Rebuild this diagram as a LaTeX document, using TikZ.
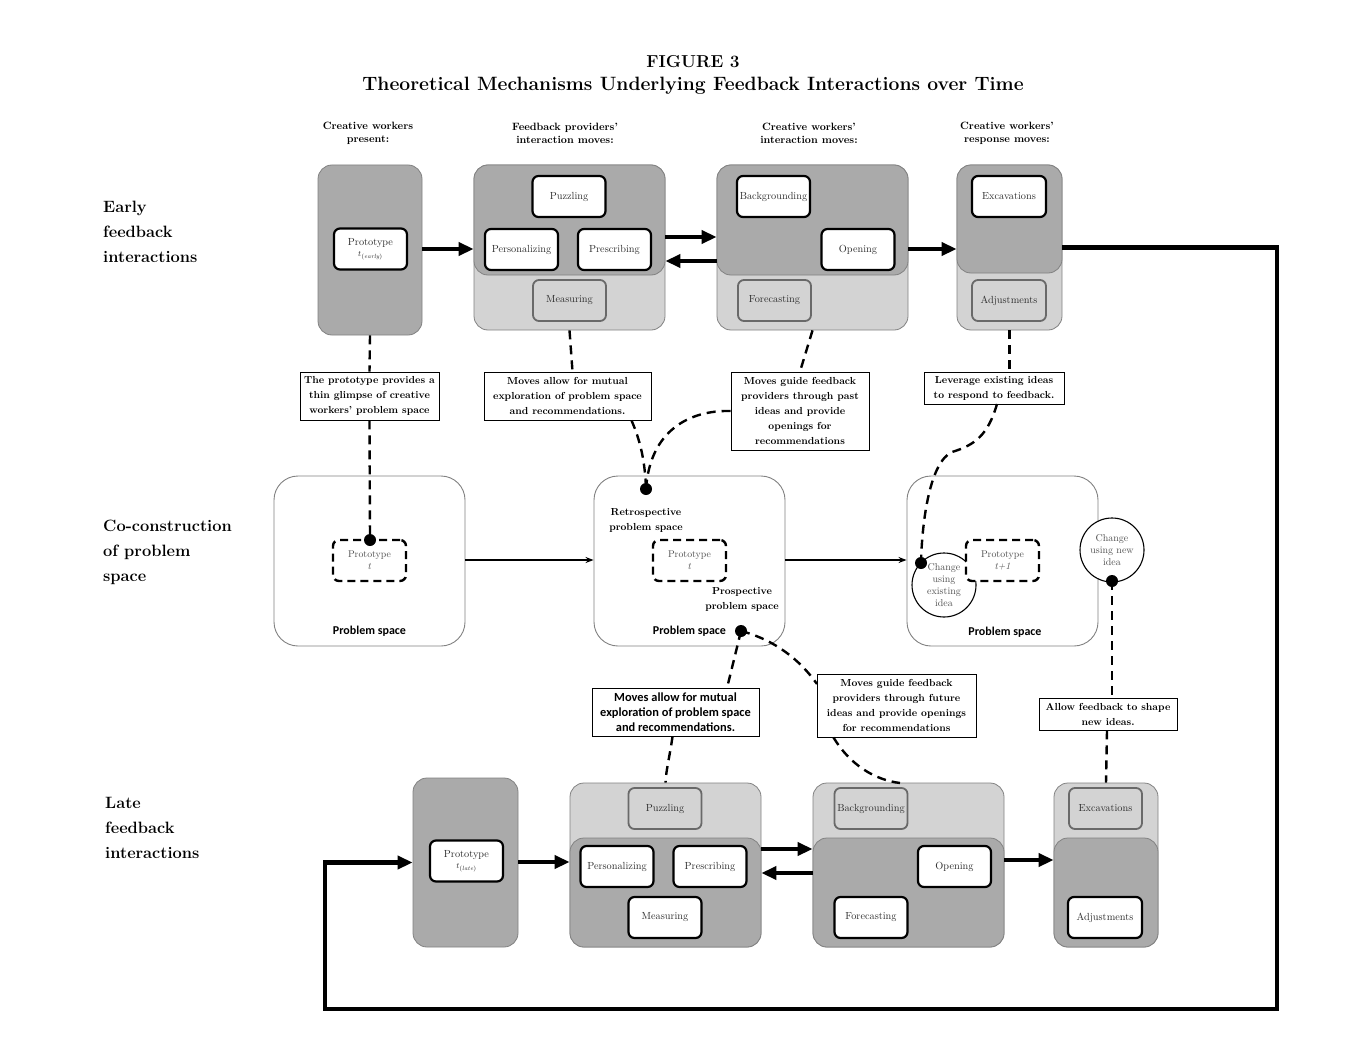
\documentclass[tikz,border=0pt]{standalone}
\usepackage{fontspec}
\newfontfamily\sansb{Carlito}
\usetikzlibrary{arrows.meta}
\definecolor{dkg}{RGB}{170,170,170}
\definecolor{ltg}{RGB}{211,211,211}
\definecolor{bdg}{RGB}{130,130,130}
\definecolor{igb}{RGB}{105,105,105}
\definecolor{txg}{RGB}{45,45,45}
\definecolor{txl}{RGB}{80,80,80}
\begin{document}
\begin{tikzpicture}[x=1pt,y=-1pt,
  every node/.style={inner sep=0pt},
  bigbox/.style={draw=bdg, line width=0.8pt, rounded corners=14pt},
  dark/.style={bigbox, fill=dkg},
  light/.style={bigbox, fill=ltg},
  wbox/.style={draw=black, fill=white, line width=2.2pt, rounded corners=6pt, minimum width=73, minimum height=41, align=center, font=\fontsize{10.3}{12}\selectfont, text=txg},
  gbox/.style={wbox, fill=ltg, draw=igb, line width=1.8pt},
  note/.style={draw=black, fill=white, line width=0.9pt, align=center, font=\bfseries\fontsize{10.2}{15}\selectfont},
  snote/.style={note, font=\sansb\bfseries\fontsize{12.4}{15}\selectfont},
  psbox/.style={draw=bdg, fill=white, line width=0.9pt, rounded corners=24pt, minimum width=191, minimum height=170},
  dproto/.style={draw=black, fill=white, dash pattern=on 8pt off 5pt, line width=2.4pt, rounded corners=6pt, minimum width=73, minimum height=41, align=center, font=\fontsize{9.8}{12}\selectfont, text=txl},
  pslab/.style={font=\sansb\bfseries\fontsize{12}{14}\selectfont},
  dsh/.style={line width=2.4pt, dash pattern=on 9pt off 6pt},
  fat/.style={line width=4.5pt, line join=miter, -{Triangle[length=15pt,width=13pt]}},
  thin/.style={line width=1.6pt, -{Stealth[length=8pt,width=6pt]}},
  dotn/.style={circle, fill=black, minimum size=12pt},
  hdr/.style={align=center, font=\bfseries\fontsize{10.6}{13}\selectfont},
  rowl/.style={align=left, anchor=north west, font=\bfseries\fontsize{16.4}{25}\selectfont},
  circ/.style={circle, draw=black, fill=white, line width=1.1pt, minimum size=64, align=center, font=\fontsize{10}{12}\selectfont, text=txl}
]
\useasboundingbox (0,0) rectangle (1364,1051);
\fill[white] (0,0) rectangle (1364,1051);

% titles
\node[font=\bfseries\fontsize{17.3}{19}\selectfont] (fig) at (693,62) {FIGURE 3};
\node[font=\bfseries\fontsize{19.3}{21}\selectfont] (ttl) at (693,86) {Theoretical Mechanisms Underlying Feedback Interactions over Time};

\node[hdr] (h1) at (368,133) {Creative workers\\present:};
\node[hdr] (h2) at (565,133) {Feedback providers'\\interaction moves:};
\node[hdr] (h3) at (809,133) {Creative workers'\\interaction moves:};
\node[hdr] (h4) at (1007,133) {Creative workers'\\response moves:};

\node[rowl] (r1) at (103,201) {Early\\feedback\\interactions};
\node[rowl] (r2) at (103,520) {Co-construction\\of problem\\space};
\node[rowl] (r3) at (105,797) {Late\\feedback\\interactions};

% ---------- early row ----------
\node[dark, minimum width=104, minimum height=170] (p1box) at (370,250) {};
\node[wbox] (p1) at (370.5,249) {Prototype\\[-1pt]{\footnotesize$t_{(\mathit{early})}$}};

\node[light, minimum width=191, minimum height=165] (fp1light) at (569.5,247.5) {};
\node[dark, minimum width=191, minimum height=110] (fp1dark) at (569.5,220) {};
\node[wbox] (puz1) at (569,196.5) {Puzzling};
\node[wbox] (per1) at (521.5,249.5) {Personalizing};
\node[wbox] (pre1) at (614.5,249.5) {Prescribing};
\node[gbox] (mea1) at (569.5,300.5) {Measuring};

\node[light, minimum width=191, minimum height=165] (cw1light) at (812.5,247.5) {};
\node[dark, minimum width=191, minimum height=110] (cw1dark) at (812.5,220) {};
\node[wbox] (bac1) at (773.5,196.5) {Backgrounding};
\node[wbox] (ope1) at (858,249.5) {Opening};
\node[gbox] (for1) at (774.5,300.5) {Forecasting};

\node[light, minimum width=105, minimum height=165] (rs1light) at (1009.5,247.5) {};
\node[dark, minimum width=105, minimum height=108] (rs1dark) at (1009.5,219) {};
\node[wbox, minimum width=74] (exc1) at (1009,196.5) {Excavations};
\node[gbox, minimum width=74] (adj1) at (1009,300.5) {Adjustments};

\draw[fat] (p1box.east |- 0,249) -- (fp1light.west |- 0,249);
\draw[fat] (fp1light.east |- 0,237) -- (cw1light.west |- 0,237);
\draw[fat] (cw1light.west |- 0,261) -- (fp1light.east |- 0,261);
\draw[fat] (cw1light.east |- 0,249) -- (rs1light.west |- 0,249);

% ---------- notes ----------
\node[note, minimum width=139, minimum height=48] (n1) at (369.5,396) {The prototype provides a\\thin glimpse of creative\\workers' problem space};
\node[note, minimum width=167, minimum height=48] (n2) at (567.5,396) {Moves allow for mutual\\exploration of problem space\\and recommendations.};
\node[note, minimum width=138, minimum height=78] (n3) at (800,411) {Moves guide feedback\\providers through past\\ideas and provide\\openings for\\recommendations};
\node[note, minimum width=140, minimum height=32] (n4) at (994,388) {Leverage existing ideas\\to respond to feedback.};
\node[snote, minimum width=167, minimum height=48] (n5) at (675.5,712) {Moves allow for mutual\\exploration of problem space\\and recommendations.};
\node[note, minimum width=159, minimum height=63] (n6) at (896.5,705.5) {Moves guide feedback\\providers through future\\ideas and provide openings\\for recommendations};
\node[note, minimum width=138, minimum height=32] (n7) at (1108,714) {Allow feedback to shape\\new ideas.};

% ---------- middle row ----------
\node[psbox] (ps1) at (369.5,561) {};
\node[dproto] (pt1) at (369.5,560.5) {Prototype\\\textit{t}};
\node[pslab] (psl1) at (369.5,631) {Problem space};

\node[psbox] (ps2) at (689.5,561) {};
\node[dproto] (pt2) at (689.5,560.5) {Prototype\\\textit{t}};
\node[align=center, font=\bfseries\fontsize{10.2}{15}\selectfont] (retro) at (646,520.5) {Retrospective\\problem space};
\node[align=center, font=\bfseries\fontsize{10.2}{15}\selectfont] (prosp) at (742,599.5) {Prospective\\problem space};
\node[pslab] (psl2) at (689.5,631) {Problem space};

\node[psbox] (ps3) at (1002.5,561) {};
\node[circ] (ce) at (944,585) {Change\\using\\existing\\idea};
\node[dproto] (pt3) at (1002.5,560.5) {Prototype\\\textit{t+1}};
\node[pslab] (psl3) at (1005,632) {Problem space};
\node[circ] (cn) at (1112,550) {Change\\using new\\idea};

\draw[thin] (ps1.east |- 0,560) -- (ps2.west |- 0,560);
\draw[thin] (ps2.east |- 0,560) -- (ps3.west |- 0,560);

% ---------- late row ----------
\node[dark, minimum width=105, minimum height=169] (p3box) at (465.5,862.5) {};
\node[wbox] (p3) at (466.5,861) {Prototype\\[-1pt]{\footnotesize$t_{(\mathit{late})}$}};

\node[light, minimum width=191, minimum height=164] (fp3light) at (665.5,865) {};
\node[dark, minimum width=191, minimum height=109] (fp3dark) at (665.5,892.5) {};
\node[gbox] (puz3) at (665,808.5) {Puzzling};
\node[wbox] (per3) at (617,866.5) {Personalizing};
\node[wbox] (pre3) at (710,866.5) {Prescribing};
\node[wbox] (mea3) at (665,917.5) {Measuring};

\node[light, minimum width=191, minimum height=164] (cw3light) at (908.5,865) {};
\node[dark, minimum width=191, minimum height=109] (cw3dark) at (908.5,892.5) {};
\node[gbox] (bac3) at (871,808.5) {Backgrounding};
\node[wbox] (ope3) at (954.5,866.5) {Opening};
\node[wbox] (for3) at (871,917.5) {Forecasting};

\node[light, minimum width=104, minimum height=164] (rs3light) at (1106,865) {};
\node[dark, minimum width=104, minimum height=109] (rs3dark) at (1106,892.5) {};
\node[gbox, minimum width=73] (exc3) at (1105.5,808.5) {Excavations};
\node[wbox, minimum width=74] (adj3) at (1105,917.5) {Adjustments};

\draw[fat] (p3box.east |- 0,862) -- (fp3light.west |- 0,862);
\draw[fat] (fp3light.east |- 0,849) -- (cw3light.west |- 0,849);
\draw[fat] (cw3light.west |- 0,873) -- (fp3light.east |- 0,873);
\draw[fat] (cw3light.east |- 0,860) -- (rs3light.west |- 0,860);

% feedback loop
\coordinate (lpA) at (1277,247.5);
\coordinate (lpB) at (1277,1009);
\coordinate (lpC) at (325,1009);
\draw[fat] (rs1light.east) -- (lpA) -- (lpB) -- (lpC) |- (p3box.west);

% ---------- dots ----------
\coordinate (d1) at (370,540);
\coordinate (d2a) at (646,489);
\coordinate (d2b) at (741,631);
\coordinate (d3) at (921,563);
\coordinate (dn) at (1112,581);

% ---------- dashed connectors ----------
\draw[dsh] (p1box.south) -- (n1.north);
\draw[dsh] (n1.south) -- (d1);
\draw[dsh] (fp1light.south) -- ([xshift=5]n2.north);
\draw[dsh] ([xshift=64]n2.south) .. controls (640,440) and (645,460) .. (d2a);
\draw[dsh] (n3.west) .. controls (690,410) and (650,430) .. (d2a);
\draw[dsh] (cw1light.south) -- (n3.north);
\draw[dsh] (rs1light.south) -- (rs1light.south |- n4.north);
\coordinate (n4b) at (997,404);
\coordinate (m4) at (952,452);
\draw[dsh] (n4b) .. controls (988,435) and (975,445) .. (m4) .. controls (930,462) and (922,520) .. (d3);
\coordinate (n5t) at (727,688);
\draw[dsh] (d2b) -- (n5t);
\draw[dsh] ([xshift=-3]n5.south) .. controls (670,755) and (666,770) .. (fp3light.north);
\coordinate (n6l) at (817,684);
\draw[dsh] (d2b) .. controls (775,640) and (800,660) .. (n6l);
\coordinate (cw3t) at (900,783);
\draw[dsh] ([xshift=-63]n6.south) .. controls (850,765) and (875,780) .. (cw3t);
\draw[dsh] (dn) -- (dn |- n7.north);
\draw[dsh] ([xshift=-1]n7.south) -- (rs3light.north);

\node[dotn] (D1) at (d1) {};
\node[dotn] (D2a) at (d2a) {};
\node[dotn] (D2b) at (d2b) {};
\node[dotn] (D3) at (d3) {};
\node[dotn] (Dn) at (dn) {};
\end{tikzpicture}
\end{document}
